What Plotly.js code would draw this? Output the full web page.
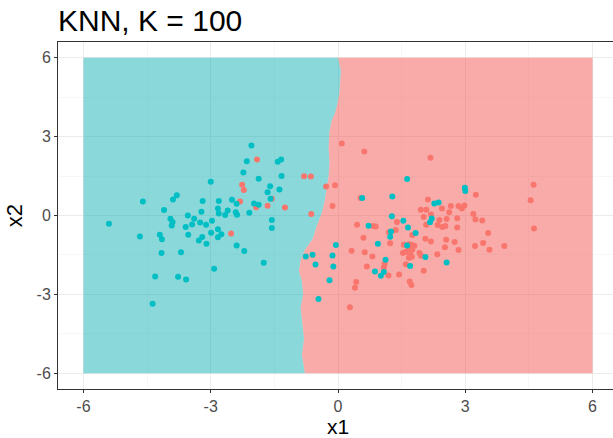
<!DOCTYPE html>
<html>
<head>
<meta charset="utf-8">
<script src="https://cdn.plot.ly/plotly-3.0.1.min.js"></script>
<style>
html,body{margin:0;padding:0;overflow:hidden;background:#fff;}
#chart{width:618px;height:438px;}
</style>
</head>
<body>
<div id="chart"></div>
<script>
// Decision boundary of the KNN classifier (x1 at each x2 level)
const boundaryY = [6.0, 5.5, 5.0, 4.6, 4.2, 3.9, 3.6, 3.2, 2.6, 2.0, 1.5, 1.0, 0.5, 0.1, -0.4, -0.9, -1.3, -1.7, -2.1, -2.5, -3.0, -3.5, -4.0, -4.7, -5.3, -6.0];
const boundaryX = [0.0, 0.07, 0.05, 0.03, -0.02, -0.07, -0.15, -0.2, -0.22, -0.2, -0.22, -0.27, -0.32, -0.38, -0.5, -0.6, -0.78, -0.88, -0.92, -0.85, -0.82, -0.88, -0.84, -0.8, -0.85, -0.78];
const gridMin = -6, gridMax = 6;

// Class 1 (teal) points
const tealX = [-3.0,-4.6,-3.80,-3.89,-3.19,-2.81,-2.5,-2.39,-4.10,-2.83,-3.22,-2.81,-2.60,-2.66,-2.41,-2.38,-3.54,-3.39,-3.95,-3.90,-3.92,-5.40,-3.44,-3.25,-3.11,-2.97,-3.59,-2.83,-2.99,-2.75,-4.67,-4.20,-4.15,-3.53,-3.20,-3.28,-3.10,-2.83,-2.39,-4.16,-3.70,-2.92,-4.31,-3.77,-3.58,-4.37,
 -2.04,-2.15,-1.42,-1.34,-2.23,-1.87,-1.33,-1.60,-1.66,-1.38,-1.59,-1.98,-1.87,-2.09,-1.56,-1.56,-2.21,-1.75,-0.76,-0.60,-0.53,-0.20,-0.46,-0.05,-0.13,-0.11,0.57,0.72,0.94,0.87,1.01,1.08,
 1.63,1.28,2.99,3.00,2.27,2.37,1.27,1.54,1.65,2.21,2.17,1.25,1.23,1.83,1.63,2.06,2.56,1.12,1.70];
const tealY = [1.28,0.53,0.77,0.61,0.55,0.55,0.60,0.45,0.21,0.27,0.14,0.08,0.19,0.02,0.12,0.03,0.0,-0.12,-0.12,-0.25,-0.38,-0.31,-0.34,-0.27,-0.35,-0.20,-0.44,-0.52,-0.66,-0.71,-0.80,-0.73,-0.90,-0.73,-0.82,-0.95,-1.07,-0.83,-1.14,-1.43,-1.40,-2.03,-2.32,-2.33,-2.43,-3.36,
 2.66,2.06,2.04,2.13,1.64,1.40,1.50,1.11,0.88,0.99,0.64,0.46,0.41,0.10,-0.17,-0.48,-1.35,-1.80,-1.56,-1.49,-1.86,-2.46,-3.18,-1.12,-1.52,-1.94,0.67,-0.39,-1.07,-2.13,-2.29,-2.15,
 1.39,0.72,1.06,0.93,0.46,0.49,-0.03,-0.20,-0.46,-0.11,-0.26,-0.61,-0.81,-0.67,-1.14,-1.58,-1.79,-1.68,-1.92];

// Class 2 (red) points
const redX = [-2.52,
 -1.91,-2.26,-2.22,-2.31,-1.93,-1.66,-1.56,-1.25,-0.80,-0.64,-0.28,-0.07,-0.63,-0.13,0.09,0.62,0.53,0.45,0.83,0.89,0.60,0.32,0.63,0.81,0.68,0.43,0.40,0.28,
 2.18,4.61,4.54,4.62,3.25,2.12,1.95,2.08,2.45,2.66,2.84,2.92,2.98,2.62,2.19,2.02,2.39,2.56,2.81,3.19,3.24,3.40,2.08,2.35,2.46,2.53,2.81,1.39,1.36,1.20,3.54,1.75,2.06,2.19,2.55,2.75,3.42,3.23,3.92,2.52,2.84,3.57,1.23,1.55,1.67,1.74,1.80,1.67,1.75,1.70,1.53,1.59,1.67,1.74,1.92,1.96,2.34,1.10,1.08,1.19,1.44,1.60,2.02,1.69,1.73];
const redY = [-0.68,
 2.13,1.17,0.97,0.53,0.31,0.37,0.64,0.30,1.49,1.48,1.10,1.15,0.06,0.36,2.74,2.43,0.67,-0.35,-0.40,-0.42,-0.85,-1.34,-1.40,-1.56,-1.94,-2.53,-2.75,-3.49,
 2.20,1.17,0.58,-0.49,0.79,0.61,0.22,0.22,0.27,0.36,0.36,0.27,0.38,0.12,0.04,-0.06,-0.17,-0.13,-0.10,0.06,-0.15,-0.19,-0.35,-0.36,-0.44,-0.40,-0.46,-0.25,-0.55,-0.64,-0.67,-0.74,-0.88,-0.99,-0.92,-1.01,-1.05,-1.16,-1.16,-1.21,-1.31,-1.30,-1.06,-1.11,-1.09,-1.12,-1.15,-1.26,-1.30,-1.46,-1.43,-1.39,-1.61,-1.57,-1.43,-1.53,-1.47,-1.84,-1.98,-2.28,-2.24,-1.85,-2.10,-2.51,-2.64];

const xTicks = [-6, -3, 0, 3, 6];
const yTicks = [-6, -3, 0, 3, 6];
const minorTicks = [-4.5, -1.5, 1.5, 4.5];

const tealRegion = {
  type: 'scatter', mode: 'lines', hoverinfo: 'skip',
  x: [gridMin].concat(boundaryX, [gridMin]),
  y: [gridMax].concat(boundaryY, [gridMin]),
  fill: 'toself', fillcolor: 'rgba(21,177,181,0.5)', line: {width: 0}
};
const redRegion = {
  type: 'scatter', mode: 'lines', hoverinfo: 'skip',
  x: [gridMax].concat(boundaryX, [gridMax]),
  y: [gridMax].concat(boundaryY, [gridMin]),
  fill: 'toself', fillcolor: 'rgba(243,87,83,0.5)', line: {width: 0}
};
const redPts = {type: 'scatter', mode: 'markers', x: redX, y: redY, marker: {color: '#F8766D', size: 6}};
const tealPts = {type: 'scatter', mode: 'markers', x: tealX, y: tealY, marker: {color: '#00BFC4', size: 6}};

const axisCommon = {
  range: [-6.6, 6.6], zeroline: false, showgrid: true, gridcolor: '#EBEBEB', gridwidth: 1,
  minor: {tickvals: minorTicks, showgrid: true, gridcolor: '#F2F2F2', gridwidth: 0.6, ticks: ''},
  showline: true, mirror: true, linecolor: '#333333', linewidth: 1,
  ticks: 'outside', ticklen: 3, tickcolor: '#333333', tickwidth: 1,
  tickfont: {size: 16, color: '#4D4D4D', family: 'Liberation Sans, Arial, sans-serif'}
};

const layout = {
  width: 618, height: 438,
  margin: {l: 58, r: 0, t: 42, b: 49},
  paper_bgcolor: '#ffffff', plot_bgcolor: '#ffffff',
  showlegend: false,
  font: {family: 'Liberation Sans, Arial, sans-serif', color: '#000000'},
  title: {text: 'KNN, K = 100', x: 0, xref: 'paper', xanchor: 'left', y: 1 - 20/438, yref: 'container', yanchor: 'middle',
          font: {size: 30, color: '#000000'}},
  xaxis: Object.assign({}, axisCommon, {tickvals: xTicks, ticktext: xTicks.map(String)}),
  yaxis: Object.assign({}, axisCommon, {tickvals: yTicks, ticktext: yTicks.map(String),
          title: {text: 'x2', font: {size: 22}, standoff: 7}}),
  annotations: [{
    text: 'x1', showarrow: false, xref: 'x', x: 0, yref: 'paper', y: 0,
    yanchor: 'bottom', yshift: -48.5, borderpad: 0, borderwidth: 0, font: {size: 21, color: '#000000'}
  }]
};

Plotly.newPlot('chart', [tealRegion, redRegion, redPts, tealPts], layout, {staticPlot: true, displayModeBar: false});
</script>
</body>
</html>
